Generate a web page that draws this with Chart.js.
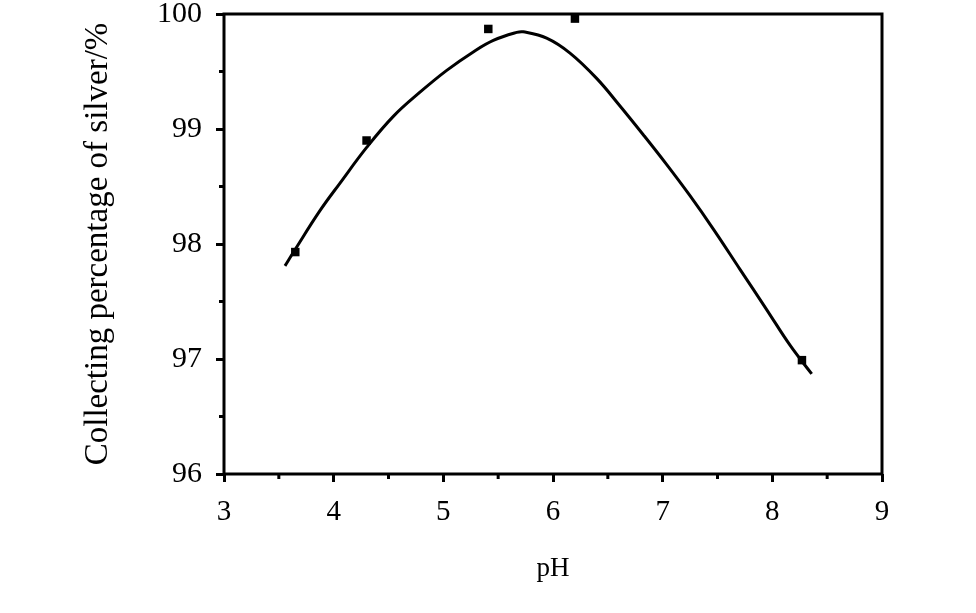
<!DOCTYPE html>
<html>
<head>
<meta charset="utf-8">
<script src="https://cdn.jsdelivr.net/npm/chart.js@4.4.1/dist/chart.umd.min.js"></script>
<style>
  html, body { margin: 0; padding: 0; background: #fff; }
  canvas { display: block; }
</style>
</head>
<body>
<canvas id="silverChart" width="976" height="613"></canvas>
<script>
// measured points (pH vs collecting percentage)
const phPoints = [3.65, 4.30, 5.41, 6.20, 8.27];
const silverPoints = [97.93, 98.90, 99.87, 99.96, 96.99];

// fitted curve
const curvePh = [3.556, 3.647, 3.875, 4.058, 4.301, 4.544, 4.787, 5.031, 5.273, 5.456, 5.669, 5.729, 5.942, 6.155, 6.398, 6.611, 6.823, 7.037, 7.249, 7.462, 7.705, 7.948, 8.161, 8.359];
const curveSilver = [97.81, 97.95, 98.29, 98.53, 98.84, 99.11, 99.32, 99.51, 99.67, 99.77, 99.84, 99.845, 99.79, 99.66, 99.44, 99.20, 98.95, 98.69, 98.42, 98.13, 97.78, 97.43, 97.12, 96.87];

// axis ticks
const xTicks = [3, 4, 5, 6, 7, 8, 9];
const yTicks = [96, 97, 98, 99, 100];
const xMinor = [3.5, 4.5, 5.5, 6.5, 7.5, 8.5];
const yMinor = [96.5, 97.5, 98.5, 99.5];

const serif = "'Liberation Serif', 'Times New Roman', serif";

// frame round the plot + short minor ticks
const framePlugin = {
  id: 'frame',
  afterDraw(chart) {
    const { ctx, chartArea: a, scales: { x, y } } = chart;
    ctx.save();
    ctx.strokeStyle = '#000';
    ctx.lineWidth = 3;
    ctx.strokeRect(a.left, a.top, a.right - a.left, a.bottom - a.top);
    ctx.beginPath();
    xMinor.forEach(v => {
      const px = x.getPixelForValue(v);
      ctx.moveTo(px, a.bottom);
      ctx.lineTo(px, a.bottom + 5);
    });
    yMinor.forEach(v => {
      const py = y.getPixelForValue(v);
      ctx.moveTo(a.left, py);
      ctx.lineTo(a.left - 5, py);
    });
    ctx.stroke();
    ctx.restore();
  }
};

const ctx = document.getElementById('silverChart').getContext('2d');
new Chart(ctx, {
  type: 'scatter',
  data: {
    datasets: [{
      label: 'measured',
      data: phPoints.map((v, i) => ({ x: v, y: silverPoints[i] })),
      pointStyle: 'rect',
      pointRadius: 6,
      pointHoverRadius: 6,
      backgroundColor: '#000',
      borderColor: '#000',
      borderWidth: 0,
      showLine: false
    }, {
      label: 'fit',
      type: 'line',
      data: curvePh.map((v, i) => ({ x: v, y: curveSilver[i] })),
      borderColor: '#000',
      borderWidth: 3,
      pointRadius: 0,
      fill: false,
      tension: 0.4
    }]
  },
  options: {
    responsive: false,
    animation: false,
    events: [],
    layout: { padding: { left: 0, top: 14, right: 94, bottom: 0 } },
    plugins: {
      legend: { display: false },
      tooltip: { enabled: false }
    },
    scales: {
      x: {
        type: 'linear',
        min: 3, max: 9,
        afterBuildTicks: s => { s.ticks = xTicks.map(v => ({ value: v })); },
        afterFit: s => { s.height = 139; s.paddingLeft = 0; s.paddingRight = 0; },
        border: { display: false },
        grid: { drawOnChartArea: false, drawTicks: true, tickLength: 8, lineWidth: 3, color: '#000' },
        ticks: { color: '#000', padding: 13, maxRotation: 0, font: { family: serif, size: 29 } },
        title: { display: true, text: 'pH', color: '#000', padding: { top: 0, bottom: 28 }, font: { family: serif, size: 27 } }
      },
      y: {
        type: 'linear',
        min: 96, max: 100,
        afterBuildTicks: s => { s.ticks = yTicks.map(v => ({ value: v })); },
        afterFit: s => { s.width = 224; s.paddingTop = 0; s.paddingBottom = 0; },
        border: { display: false },
        grid: { drawOnChartArea: false, drawTicks: true, tickLength: 8, lineWidth: 3, color: '#000' },
        ticks: { color: '#000', padding: 14, font: { family: serif, size: 30 } },
        title: { display: true, text: 'Collecting percentage of silver/%', color: '#000', padding: { top: 79, bottom: 0 }, font: { family: serif, size: 33 } }
      }
    }
  },
  plugins: [framePlugin]
});
</script>
</body>
</html>
